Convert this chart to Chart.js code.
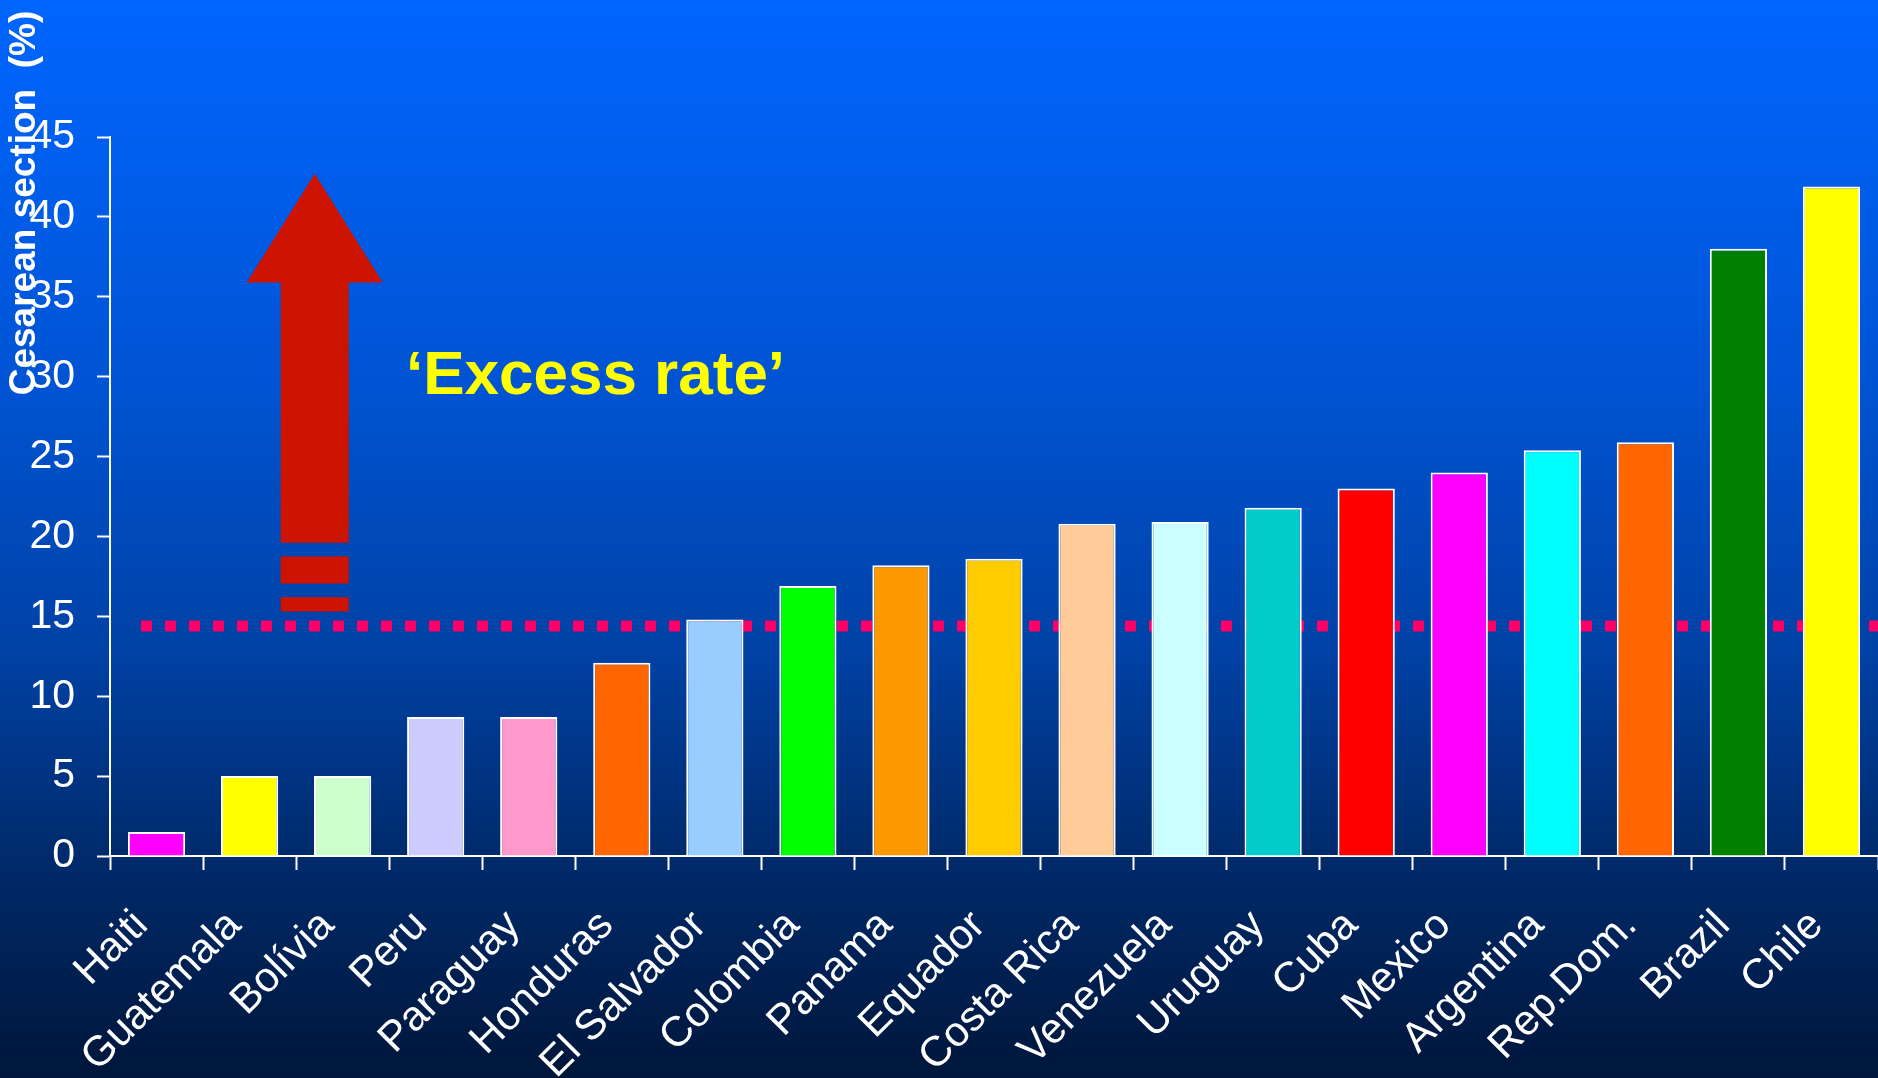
<!DOCTYPE html>
<html>
<head>
<meta charset="utf-8">
<title>Cesarean section rates</title>
<script src="https://cdn.jsdelivr.net/npm/chart.js@4.4.1/dist/chart.umd.min.js"></script>
<style>
  html, body { margin: 0; padding: 0; background: #001638; overflow: hidden; }
  #wrap { width: 1878px; height: 1078px; }
</style>
</head>
<body>
<div id="wrap"><canvas id="myChart"></canvas></div>
<script>
const countries = ['Haiti', 'Guatemala', 'Bolívia', 'Peru', 'Paraguay', 'Honduras', 'El Salvador',
    'Colombia', 'Panama', 'Equador', 'Costa Rica', 'Venezuela', 'Uruguay', 'Cuba', 'Mexico',
    'Argentina', 'Rep.Dom.', 'Brazil', 'Chile'];
const cesareanRates = [1.5, 5, 5, 8.7, 8.7, 12.1, 14.8, 16.9, 18.2, 18.6, 20.8, 20.9, 21.8, 23, 24,
    25.4, 25.9, 38, 41.9];
const barColors = ['#ff00ff', '#ffff00', '#ccffcc', '#ccccff', '#ff99cc', '#ff6600', '#99ccff',
    '#00ff00', '#ff9900', '#ffcc00', '#ffcc99', '#ccffff', '#00cccc', '#ff0000', '#ff00ff',
    '#00ffff', '#ff6600', '#008000', '#ffff00'];
const yTickValues = [0, 5, 10, 15, 20, 25, 30, 35, 40, 45];
const thresholdRate = 14.4;

document.addEventListener("DOMContentLoaded", function() {

    const FONT = '"Liberation Sans", Arial, Helvetica, sans-serif';

    // blue slide background, bright at the top and fading to navy
    const backdrop = {
        id: 'backdrop',
        beforeDraw(chart) {
            const { ctx, width, height } = chart;
            const g = ctx.createLinearGradient(0, 0, 0, height);
            g.addColorStop(0, '#0066ff');
            g.addColorStop(0.35, '#0054d4');
            g.addColorStop(0.6, '#0042a6');
            g.addColorStop(0.8, '#002a6a');
            g.addColorStop(1, '#00163a');
            ctx.save();
            ctx.fillStyle = g;
            ctx.fillRect(0, 0, width, height);
            ctx.restore();
        }
    };

    // dotted reference line, sits behind the bars
    const thresholdLine = {
        id: 'thresholdLine',
        beforeDatasetsDraw(chart) {
            const { ctx, chartArea, scales } = chart;
            const y = scales.y.getPixelForValue(thresholdRate);
            ctx.save();
            ctx.strokeStyle = '#ff0066';
            ctx.lineWidth = 11;
            ctx.lineCap = 'butt';
            ctx.setLineDash([11, 13]);
            ctx.beginPath();
            ctx.moveTo(chartArea.left + 31, y);
            ctx.lineTo(chartArea.right, y);
            ctx.stroke();
            ctx.restore();
        }
    };

    // red arrow with broken tail + caption, and the rotated y title
    const decorations = {
        id: 'decorations',
        afterDraw(chart) {
            const { ctx, scales } = chart;
            const x = scales.x, y = scales.y;
            const cx = x.getPixelForValue(1.7);
            const head = 68, shaft = 34;

            ctx.save();
            ctx.fillStyle = '#cc1400';
            ctx.beginPath();
            ctx.moveTo(cx, y.getPixelForValue(42.7));
            ctx.lineTo(cx + head, y.getPixelForValue(35.9));
            ctx.lineTo(cx - head, y.getPixelForValue(35.9));
            ctx.closePath();
            ctx.fill();
            const pieces = [[35.95, 19.6], [18.75, 17.05], [16.2, 15.3]];
            pieces.forEach(([top, bottom]) => {
                const y0 = y.getPixelForValue(top);
                const y1 = y.getPixelForValue(bottom);
                ctx.fillRect(cx - shaft, y0, shaft * 2, y1 - y0);
            });

            ctx.fillStyle = '#ffff00';
            ctx.font = 'bold 62px ' + FONT;
            ctx.textAlign = 'left';
            ctx.textBaseline = 'alphabetic';
            ctx.fillText('\u2018Excess rate\u2019', x.getPixelForValue(2.68), y.getPixelForValue(28.9));

            ctx.fillStyle = '#ffffff';
            ctx.font = 'bold 37px ' + FONT;
            ctx.translate(35, 203);
            ctx.rotate(-Math.PI / 2);
            ctx.textAlign = 'center';
            ctx.fillText('Cesarean section  (%)', 0, 0);
            ctx.restore();
        }
    };

    const ctx = document.getElementById('myChart');
    new Chart(ctx, {
        type: 'bar',
        data: {
            labels: countries,
            datasets: [{
                label: 'Cesarean section (%)',
                data: cesareanRates,
                backgroundColor: barColors,
                borderColor: '#ffffff',
                borderWidth: 2,
                barPercentage: 1,
                categoryPercentage: 0.615
            }]
        },
        options: {
            responsive: true,
            maintainAspectRatio: false,
            animation: false,
            layout: { padding: { top: 137, left: 0, right: 0, bottom: 0 } },
            plugins: {
                legend: { display: false },
                tooltip: { enabled: false }
            },
            scales: {
                y: {
                    min: 0,
                    max: 45,
                    afterFit: scale => { scale.width = 110; },
                    afterBuildTicks: scale => { scale.ticks = yTickValues.map(v => ({ value: v })); },
                    border: { color: '#ffffff', width: 2 },
                    grid: { drawOnChartArea: false, color: '#ffffff', tickLength: 13, tickWidth: 2 },
                    ticks: { color: '#ffffff', padding: 22, font: { family: FONT, size: 41 } }
                },
                x: {
                    afterFit: scale => {
                        scale.height = 222;
                        scale.paddingLeft = 0;
                        scale.paddingRight = 0;
                    },
                    border: { color: '#ffffff', width: 2 },
                    grid: { drawOnChartArea: false, color: '#ffffff', tickLength: 14, tickWidth: 2 },
                    ticks: {
                        color: '#ffffff',
                        autoSkip: false,
                        minRotation: 45,
                        maxRotation: 45,
                        padding: 31,
                        labelOffset: -15,
                        font: { family: FONT, size: 42 }
                    }
                }
            }
        },
        plugins: [backdrop, thresholdLine, decorations]
    });
});
</script>
</body>
</html>
